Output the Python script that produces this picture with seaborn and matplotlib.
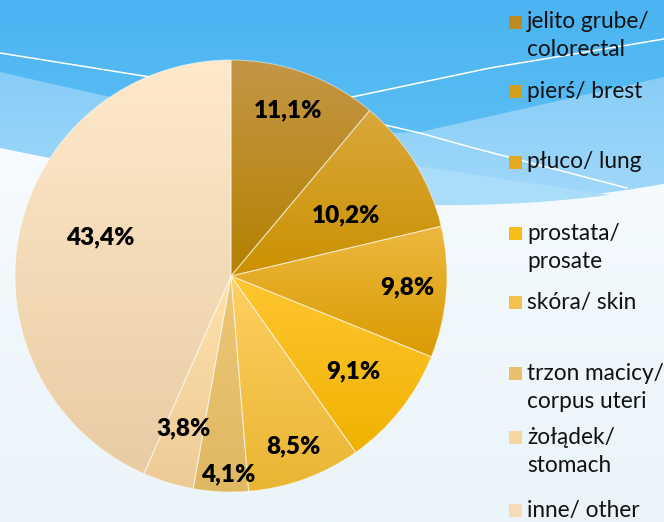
import numpy as np
import matplotlib
matplotlib.use("Agg")
import matplotlib.pyplot as plt
import seaborn as sns
from matplotlib.colors import LinearSegmentedColormap
from matplotlib.patches import Polygon, Rectangle

# ---- data ----
labels = ["jelito grube/\ncolorectal", "pierś/ brest", "płuco/ lung",
          "prostata/\nprosate", "skóra/ skin", "trzon macicy/\ncorpus uteri",
          "żołądek/\nstomach", "inne/ other"]
values = [11.1, 10.2, 9.8, 9.1, 8.5, 4.1, 3.8, 43.4]
pct_text = ["11,1%", "10,2%", "9,8%", "9,1%", "8,5%", "4,1%", "3,8%", "43,4%"]

# ---- styles ----
top_colors = ["#C39646", "#DAA83C", "#EDB840", "#FFC631", "#FFD063", "#EDC777", "#FFE1AA", "#FFE9CC"]
bot_colors = ["#B58100", "#CB9100", "#D99B00", "#F0B200", "#E9B532", "#DFB862", "#EDCB96", "#E8CCA2"]
mid_colors = ["#BC8B20", "#D29E1C", "#E4A920", "#F8BC18", "#F4C24A", "#E6C06C", "#F6D6A0", "#F6DBB8"]
label_dist = [0.81, 0.60, 0.82, 0.72, 0.84, 0.92, 0.74, 0.63]
label_ang_off = [1.0, -3.8, 0.5, 0.4, 0.0, 1.9, -0.4, -4.6]
legend_y = [22, 91, 162, 233, 302, 373, 437, 510]

sns.set_theme(style="white")
plt.rcParams["font.family"] = ["Lato", "DejaVu Sans"]

W, H = 664, 522
fig = plt.figure(figsize=(W / 100, H / 100), dpi=100)

# ---- decorative background ----
bg = fig.add_axes([0, 0, 1, 1], zorder=0)
bg.set_xlim(0, W)
bg.set_ylim(H, 0)
bg.axis("off")
grad = np.linspace(0, 1, 256)[:, None]
bg.imshow(grad, extent=[0, W, 230, 0], aspect="auto",
          cmap=LinearSegmentedColormap.from_list("t", ["#4AB4F1", "#66C4F6"]))

xs = np.linspace(0, W, 400)
U = np.interp(xs, [0, 110, 250, 330, 420, 664], [72, 97, 125, 135, 132, 77])
Wc = np.polyval(np.polyfit([0, 50, 250, 420, 550, 664], [148, 158, 190, 203, 198, 184], 3), xs)
band = Polygon(np.column_stack([np.concatenate([xs, xs[::-1]]),
                                np.concatenate([U, Wc[::-1] + 2])]), closed=True,
               facecolor="none", edgecolor="none")
bg.add_patch(band)
bi = bg.imshow(grad, extent=[0, W, 210, 65], aspect="auto",
               cmap=LinearSegmentedColormap.from_list("b", ["#86CCF7", "#A2D9FA"]))
bi.set_clip_path(band)
B2 = np.interp(xs, [380, 620], [160, 196])
bg.fill_between(xs, B2, Wc + 2, where=B2 < Wc + 2, color="#A9DDFA", lw=0, interpolate=True)

poly = Polygon(np.column_stack([np.concatenate([xs, [W, 0]]),
                                np.concatenate([Wc, [H, H]])]), closed=True,
               facecolor="none", edgecolor="none")
bg.add_patch(poly)
im = bg.imshow(grad, extent=[0, W, H, 140], aspect="auto",
               cmap=LinearSegmentedColormap.from_list("w", ["#F6FBFF", "#EAF4F9"]))
im.set_clip_path(poly)

# thin white lines
bg.plot([0, 150, 250, 352, 490, 664], [53, 77, 92, 97, 68, 39], color="white", lw=1.1)
bg.plot([385, 420, 470, 627], [125, 133, 147, 188], color="white", lw=1.1)
bg.set_xlim(0, W)
bg.set_ylim(H, 0)

# ---- pie ----
cx, cy, r = 231, 276, 216
lim = 1.02
half = r * lim
ax = fig.add_axes([(cx - half) / W, (H - cy - half) / H, 2 * half / W, 2 * half / H], zorder=2)
wedges, _ = ax.pie(values, startangle=90, counterclock=False, colors=mid_colors,
                   wedgeprops=dict(linewidth=0.8, edgecolor=(1, 1, 1, 0.45)))
for w, tc, bc in zip(wedges, top_colors, bot_colors):
    angs = np.radians(np.linspace(w.theta1, w.theta2, 100))
    px = np.concatenate([[0], np.cos(angs)])
    py = np.concatenate([[0], np.sin(angs)])
    cm = LinearSegmentedColormap.from_list("g", [bc, tc])
    gi = ax.imshow(grad, cmap=cm, extent=[px.min(), px.max(), py.min(), py.max()],
                   origin="lower", aspect="auto", zorder=1)
    gi.set_clip_path(w)
    w.set_facecolor("none")
    w.set_zorder(3)

for w, t, d, off in zip(wedges, pct_text, label_dist, label_ang_off):
    a = np.radians((w.theta1 + w.theta2) / 2 + off)
    ax.text(d * np.cos(a), d * np.sin(a), t, ha="center", va="center",
            fontsize=17.5, fontweight="heavy", color="black", zorder=5)
ax.set_xlim(-lim, lim)
ax.set_ylim(-lim, lim)
ax.set_aspect("equal")
ax.axis("off")

# ---- legend ----
leg = fig.add_axes([0, 0, 1, 1], zorder=3)
leg.set_xlim(0, W)
leg.set_ylim(H, 0)
leg.axis("off")
pal = sns.color_palette(mid_colors)
for lab, y, c in zip(labels, legend_y, pal):
    leg.add_patch(Rectangle((509, y - 6.5), 13, 13, facecolor=c, edgecolor="none"))
    for i, line in enumerate(lab.split("\n")):
        leg.text(527, y + i * 28, line, ha="left", va="center", fontsize=16.3, color="#111111")

fig.savefig("out.png", dpi=100)
